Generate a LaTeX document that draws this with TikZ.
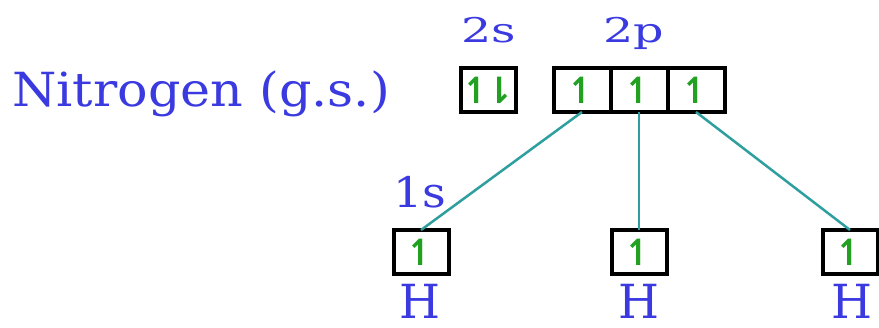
\documentclass[tikz,border=0pt]{standalone}
\usepackage{fontspec}
\setmainfont{DejaVu Serif}
\newfontfamily\arrowfont{DejaVu Sans}
\usetikzlibrary{positioning}
\definecolor{lblblue}{HTML}{3A3AE0}
\definecolor{linkteal}{HTML}{2E9E9E}
\definecolor{spingreen}{HTML}{22A022}
\newcommand{\spinup}{↿}
\newcommand{\spinpair}{↿\kern-8pt⇂}

\begin{document}
\begin{tikzpicture}[x=1pt, y=-1pt,
  orb/.style={rectangle, draw, line width=4pt, outer sep=0pt, inner sep=0pt, minimum width=55pt, minimum height=44pt, font=\arrowfont\bfseries\fontsize{36}{36}\selectfont, text=spingreen},
  lbl/.style={text=lblblue, inner sep=0pt, font=\fontsize{47}{47}\selectfont},
  sub/.style={text=lblblue, inner sep=0pt, xscale=1.4, font=\fontsize{34}{34}\selectfont},
  link/.style={linkteal, line width=2.5pt}]
\useasboundingbox (0,0) rectangle (879,328);
\node[lbl, xscale=1.08, anchor=base west] (nitro) at (12,107) {Nitrogen (g.s.)};
\node[orb] (s2) at (488,90) {\spinpair};
\node[orb, minimum width=57pt] (p1) at (582,90) {\spinup};
\node[orb, minimum width=57pt, right=0pt of p1] (p2) {\spinup};
\node[orb, minimum width=57pt, right=0pt of p2] (p3) {\spinup};
\node[sub, anchor=base] (s2lbl) at (489,43) {2s};
\node[sub, anchor=base] (p2lbl) at (634,43) {2p};
\node[orb] (h1) at (421,252) {\spinup};
\node[orb] (h2) at (639,252) {\spinup};
\node[orb] (h3) at (850,252) {\spinup};
\draw[link] (p1.south) -- (h1.north);
\draw[link] (p2.south) -- (h2.north);
\draw[link] (p3.south) -- (h3.north);
\node[lbl, xscale=1.1, font=\fontsize{42}{42}\selectfont, anchor=base] (s1lbl) at (420,208) {1s};
\node[lbl, anchor=base] (h1lbl) at (420,319) {H};
\node[lbl, anchor=base] (h2lbl) at (639,319) {H};
\node[lbl, anchor=base] (h3lbl) at (852,319) {H};
\end{tikzpicture}
\end{document}
